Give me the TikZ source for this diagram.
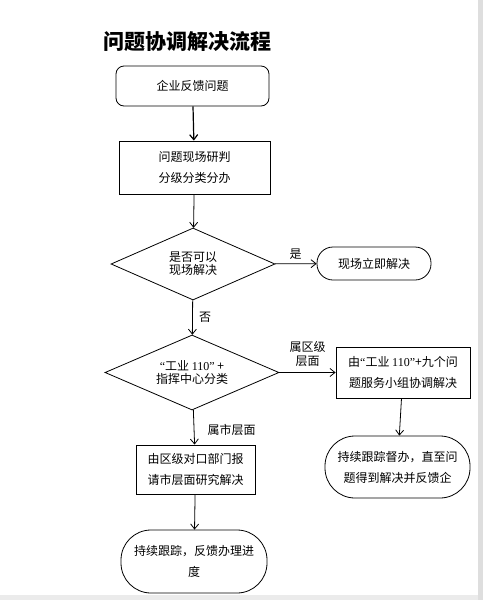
\documentclass[tikz,border=0pt]{standalone}
\usepackage{fontspec}
\setmainfont{Liberation Serif}
\newfontfamily\cjk{Noto Sans CJK SC}
\usetikzlibrary{arrows.meta,shapes.geometric}
\tikzset{
  stepbox/.style={draw,thick,minimum width=151pt,minimum height=53pt,align=center,font=\cjk\fontsize{12}{21}\selectfont},
  roundbox/.style={stepbox,rounded corners=8pt},
  endbox/.style={stepbox,rounded corners=30pt},
  askbox/.style={draw,thick,diamond,aspect=2.3,inner sep=0pt,align=center,font=\cjk\fontsize{12}{13}\selectfont},
  flow/.style={thick,-{Straight Barb[length=5pt,width=8pt]}},
  tag/.style={font=\cjk\fontsize{12}{14}\selectfont,align=center}
}
\newcommand{\lat}[1]{{\rmfamily #1}}
\begin{document}
\begin{tikzpicture}[x=1pt,y=-1pt]
\useasboundingbox (0,0) rectangle (483,600);
\fill[white] (0,0) rectangle (483,600);
\fill[black!13] (478,0) rectangle (483,600);
\fill[black!8] (0,595) rectangle (478,600);
\node[font=\cjk\bfseries\fontsize{21}{21}\selectfont] (title) at (187,42) {问题协调解决流程};
\node[roundbox,minimum width=153pt,minimum height=40pt] (report) at (192.5,86) {企业反馈问题};
\node[stepbox] (judge) at (194.5,167.5) {问题现场研判\\分级分类分办};
\node[askbox,minimum width=164pt,minimum height=72pt] (onsite) at (193,264) {是否可以\\现场解决};
\node[endbox,minimum width=114pt,minimum height=33pt,rounded corners=16pt] (solve) at (374,263.5) {现场立即解决};
\node[askbox,minimum width=174pt,minimum height=75pt] (sort) at (192,372.5) {\lat{“}工业 \lat{110”} +\\指挥中心分类};
\node[stepbox,minimum width=134pt,minimum height=51pt] (team) at (403,372.5) {由\lat{“}工业 \lat{110”}+九个问\\题服务小组协调解决};
\node[endbox,minimum width=145pt,minimum height=62pt] (track) at (397.5,467) {持续跟踪督办，直至问\\题得到解决并反馈企};
\node[stepbox,minimum width=119pt,minimum height=49pt] (city) at (195.5,469.5) {由区级对口部门报\\请市层面研究解决};
\node[endbox,minimum width=146pt,minimum height=63pt] (follow) at (194,561.5) {持续跟踪，反馈办理进\\度};
\draw[flow,line width=1.2pt] (report) -- (judge);
\draw[flow] (judge) -- (onsite);
\draw[flow] (onsite) -- node[tag,above=1pt] {是} (solve);
\draw[flow] (onsite) -- node[tag,right=3pt] {否} (sort);
\draw[flow] (sort) -- node[tag,above=2pt] {属区级\\层面} (team);
\draw[flow] (team) -- (track);
\draw[flow] (sort) -- node[tag,right=10pt,yshift=-3pt] {属市层面} (city);
\draw[flow] (city) -- (follow);
\end{tikzpicture}
\end{document}
